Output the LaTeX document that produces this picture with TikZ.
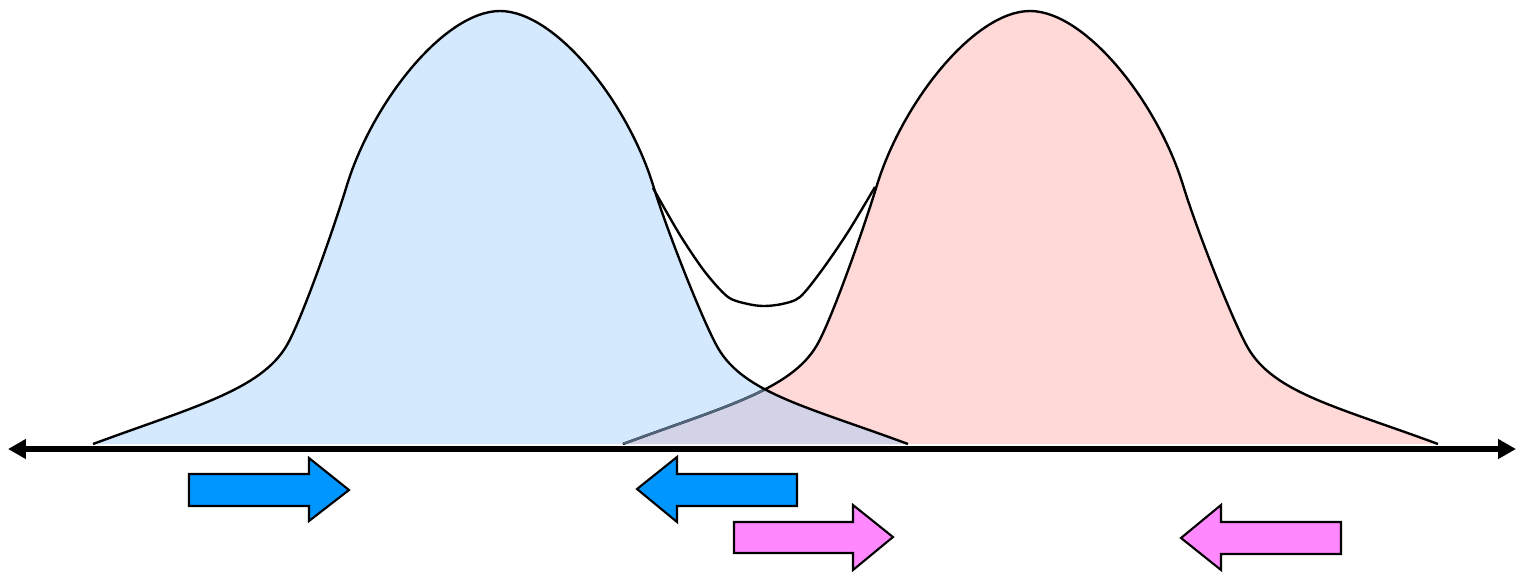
\documentclass[tikz,border=0pt]{standalone}
\usetikzlibrary{arrows.meta}
\definecolor{bluefill}{RGB}{212,233,253}
\definecolor{redfill}{RGB}{255,216,216}
\definecolor{overlapfill}{RGB}{211,211,232}
\definecolor{hiddenline}{RGB}{80,100,122}
\definecolor{bluearrow}{RGB}{0,150,255}
\definecolor{pinkarrow}{RGB}{255,136,255}
\tikzset{
  bell/.style={insert path={(-407,444) .. controls (-307,407) and (-239,390) .. (-213,345) .. controls (-199,321) and (-167,231) .. (-153,185) .. controls (-127,101) and (-55,11) .. (0,11) .. controls (55,11) and (127,101) .. (153,185) .. controls (167,231) and (204,324) .. (218,348) .. controls (244,393) and (308,407) .. (408,444)}},
  curveline/.style={line width=1.35pt, line join=round},
  blockarrow/.style={draw=black, line width=1.2pt, line join=miter},
  axisline/.style={line width=0.11cm, {Triangle[length=0.36cm,width=0.38cm]}-{Triangle[length=0.36cm,width=0.38cm]}}
}
\begin{document}
\begin{tikzpicture}[x=0.02cm,y=-0.02cm]
\useasboundingbox[fill=white] (0,0) rectangle (1516,575);
% fills
\fill[redfill,shift={(1030,0)},bell] -- cycle;
\fill[bluefill,shift={(500,0)},bell] -- cycle;
\begin{scope}
  \clip[shift={(500,0)},bell] -- cycle;
  \fill[overlapfill,shift={(1030,0)},bell] -- cycle;
\end{scope}
% outlines
\draw[curveline,shift={(1030,0)},bell];
\begin{scope}
  \clip[shift={(500,0)},bell] -- cycle;
  \draw[curveline,hiddenline,shift={(1030,0)},bell];
\end{scope}
\draw[curveline,shift={(500,0)},bell];
% dip curve
\draw[curveline] plot[smooth] coordinates {(653,188) (680,235) (705,272) (728,297) (748,304) (764,306) (782,304) (800,297) (822,270) (848,232) (875,187)};
% axis
\draw[axisline] (8,449) -- (1516,449);
% block arrows
\filldraw[blockarrow,fill=bluearrow] (189,474) -- (309,474) -- (309,458) -- (349,490) -- (309,521) -- (309,506) -- (189,506) -- cycle;
\filldraw[blockarrow,fill=bluearrow] (797,474) -- (677,474) -- (677,457) -- (637,489) -- (677,522) -- (677,506) -- (797,506) -- cycle;
\filldraw[blockarrow,fill=pinkarrow] (734,522) -- (853,522) -- (853,505) -- (893,537) -- (853,570) -- (853,553) -- (734,553) -- cycle;
\filldraw[blockarrow,fill=pinkarrow] (1341,522) -- (1221,522) -- (1221,505) -- (1181,538) -- (1221,570) -- (1221,554) -- (1341,554) -- cycle;
\end{tikzpicture}
\end{document}
